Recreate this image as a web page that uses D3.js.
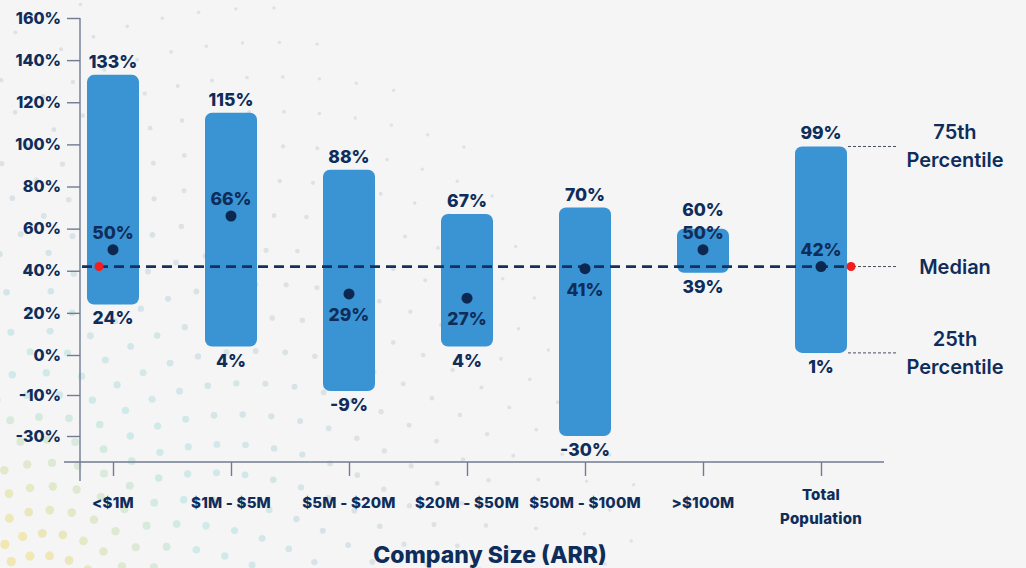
<!DOCTYPE html>
<html>
<head>
<meta charset="utf-8">
<script src="https://cdn.jsdelivr.net/npm/d3@7"></script>
<style>
  html, body { margin: 0; padding: 0; background: #f5f5f5; }
  svg { display: block; }
  text { font-family: Inter, "Open Sans", "Noto Sans", sans-serif; }
</style>
</head>
<body>
<svg id="chart" width="1026" height="568"></svg>
<script>
// ARR growth distribution by company size
const categories = ["<$1M", "$1M - $5M", "$5M - $20M", "$20M - $50M", "$50M - $100M", ">$100M", "Total Population"];
const categoryLabels = [["<$1M"], ["$1M - $5M"], ["$5M - $20M"], ["$20M - $50M"], ["$50M - $100M"], [">$100M"], ["Total", "Population"]];
const p75 = [133, 115, 88, 67, 70, 60, 99];
const p50 = [50, 66, 29, 27, 41, 50, 42];
const p25 = [24, 4, -9, 4, -30, 39, 1];
const overallMedian = 42;
const yTicks = [160, 140, 120, 100, 80, 60, 40, 20, 0, -10, -30];
const legendItems = [
  { key: "p75", lines: ["75th", "Percentile"] },
  { key: "med", lines: ["Median"] },
  { key: "p25", lines: ["25th", "Percentile"] }
];

const W = 1026, H = 568;
const navy = "#0f2d5a";
const barColor = "#3a94d3";
const axisColor = "#6f7b92";

const svg = d3.select("#chart");
svg.append("rect").attr("width", W).attr("height", H).attr("fill", "#f5f5f5");

// decorative dotted swirl in the lower-left corner
const deco = svg.append("g").attr("class", "deco");
const cx0 = -30, cy0 = 610;
const golden = Math.PI * (3 - Math.sqrt(5));
const dotColor = d3.scaleLinear().domain([90, 240, 430]).range(["#efe4a6", "#bde6e4", "#c6d1d9"]).clamp(true);
const dots = d3.range(1, 1800).map(i => {
  const r = 4 * Math.pow(i, 0.7);
  const a = i * golden;
  return { x: cx0 + r * Math.cos(a), y: cy0 + r * Math.sin(a), r };
}).filter(d => d.x > -10 && d.x < W && d.y > -10 && d.y < H + 10 && d.r < 680);
deco.selectAll("circle").data(dots).join("circle")
  .attr("cx", d => d.x).attr("cy", d => d.y)
  .attr("r", d => Math.max(1.7, 5 - d.r / 190))
  .attr("fill", d => dotColor(d.r))
  .attr("opacity", d => Math.max(0.55, 0.9 - d.r / 1200));

// scales
const x = d3.scalePoint().domain(categories).range([113, 821]);
const y = d3.scaleLinear().domain([-30, -10, 0, 160]).range([436, 395, 355, 18]);
const barW = 52;
const axisX = 80, baseY = 462;

// y axis
const yAxis = svg.append("g").attr("transform", `translate(${axisX},0)`)
  .call(d3.axisLeft(y).tickValues(yTicks).tickFormat(d => d + "%").tickSize(13).tickPadding(6));
yAxis.select(".domain").remove();
yAxis.selectAll(".tick line").attr("stroke", axisColor).attr("stroke-width", 1.4);
yAxis.selectAll(".tick text").attr("fill", navy).attr("font-size", 16).attr("font-weight", 800);
svg.append("line").attr("x1", axisX).attr("x2", axisX).attr("y1", y(160)).attr("y2", 481)
  .attr("stroke", axisColor).attr("stroke-width", 1.4);

// x axis
const xAxis = svg.append("g").attr("transform", `translate(0,${baseY})`)
  .call(d3.axisBottom(x).tickSize(14).tickFormat(""));
xAxis.select(".domain").remove();
xAxis.selectAll(".tick line").attr("stroke", axisColor).attr("stroke-width", 1.4);
svg.append("line").attr("x1", 64).attr("x2", 884).attr("y1", baseY).attr("y2", baseY)
  .attr("stroke", axisColor).attr("stroke-width", 1.4);

const xl = svg.append("g").selectAll("text").data(categories).join("text")
  .attr("x", d => x(d)).attr("text-anchor", "middle")
  .attr("fill", navy).attr("font-size", 15).attr("font-weight", 800).attr("letter-spacing", 0.2);
xl.each(function (d, i) {
  const lines = categoryLabels[i];
  const t = d3.select(this);
  lines.forEach((ln, j) => {
    t.append("tspan").attr("x", x(d))
      .attr("y", lines.length === 1 ? 508 : 500 + j * 24)
      .text(ln);
  });
});

svg.append("text").attr("x", 490).attr("y", 563).attr("text-anchor", "middle")
  .attr("fill", navy).attr("font-size", 23).attr("font-weight", 800)
  .text("Company Size (ARR)");

// range bars (25th → 75th percentile)
const rows = categories.map((c, i) => ({ c, hi: p75[i], mid: p50[i], lo: p25[i] }));
svg.append("g").selectAll("rect").data(rows).join("rect")
  .attr("x", d => x(d.c) - barW / 2).attr("width", barW)
  .attr("y", d => y(d.hi)).attr("height", d => y(d.lo) - y(d.hi))
  .attr("rx", 7).attr("fill", barColor);

// overall median reference line
const lastX = x(categories[categories.length - 1]);
svg.append("line")
  .attr("x1", axisX + 2).attr("x2", lastX + barW / 2 + 4)
  .attr("y1", y(overallMedian)).attr("y2", y(overallMedian))
  .attr("stroke", "#14315f").attr("stroke-width", 2.8).attr("stroke-dasharray", "10,6");

// legend leaders
const legendX = 955;
const leaderY = { p75: y(p75[p75.length - 1]), med: y(overallMedian), p25: y(p25[p25.length - 1]) };
svg.append("g").selectAll("line").data(legendItems).join("line")
  .attr("x1", lastX + barW / 2 + 1).attr("x2", 897)
  .attr("y1", d => leaderY[d.key]).attr("y2", d => leaderY[d.key])
  .attr("stroke", "#4a4f5c").attr("stroke-width", 1).attr("stroke-dasharray", "3,2");

const legendText = svg.append("g").selectAll("text").data(legendItems).join("text")
  .attr("text-anchor", "middle").attr("fill", navy)
  .attr("font-size", 20).attr("font-weight", 600);
legendText.each(function (d) {
  const t = d3.select(this);
  const cy = leaderY[d.key];
  if (d.lines.length === 1) {
    t.append("tspan").attr("x", legendX).attr("y", cy + 7).text(d.lines[0]);
  } else {
    // two-line labels sit centred on their leader line
    d.lines.forEach((ln, j) => t.append("tspan").attr("x", legendX).attr("y", cy - 7 + j * 28).text(ln));
  }
});

// red end markers on the median line
svg.append("g").selectAll("circle").data([axisX + 19, lastX + barW / 2 + 4]).join("circle")
  .attr("cx", d => d).attr("cy", y(overallMedian)).attr("r", 4.5).attr("fill", "#f21d1d");

// median dots
svg.append("g").selectAll("circle").data(rows).join("circle")
  .attr("cx", d => x(d.c)).attr("cy", d => y(d.mid)).attr("r", 5.5).attr("fill", "#0d2850");

// value labels; median label goes below the dot when under the overall median
const midLabelY = d => d.mid < overallMedian ? y(d.mid) + 27 : y(d.mid) - 11;
const hiLabelY = d => d.mid < overallMedian ? y(d.hi) - 7 : Math.min(y(d.hi) - 7, midLabelY(d) - 23);
const lbl = svg.append("g").attr("fill", navy).attr("font-size", 17.5).attr("font-weight", 800).attr("text-anchor", "middle");
lbl.selectAll(".hi").data(rows).join("text").attr("class", "hi")
  .attr("x", d => x(d.c)).attr("y", hiLabelY).text(d => d.hi + "%");
lbl.selectAll(".lo").data(rows).join("text").attr("class", "lo")
  .attr("x", d => x(d.c)).attr("y", d => y(d.lo) + 20).text(d => d.lo + "%");
lbl.selectAll(".mid").data(rows).join("text").attr("class", "mid")
  .attr("x", d => x(d.c)).attr("y", midLabelY).text(d => d.mid + "%");
</script>
</body>
</html>
